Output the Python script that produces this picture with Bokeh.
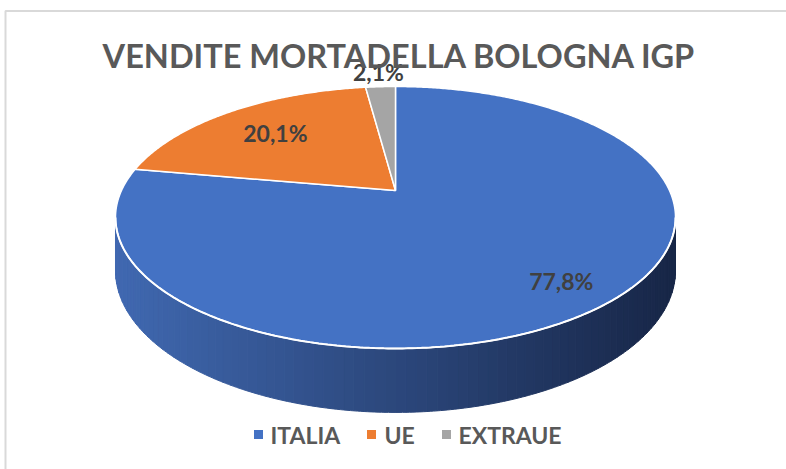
import numpy as np
from bokeh.plotting import figure
from bokeh.models import Range1d
from bokeh.core.properties import value
from bokeh.embed import file_html
from bokeh.resources import INLINE

# ---- data ----
title = "VENDITE MORTADELLA BOLOGNA IGP"
categories = ["ITALIA", "UE", "EXTRAUE"]
shares = [77.8, 20.1, 2.1]
labels = ["77,8%", "20,1%", "2,1%"]
colors = ["#4472C4", "#ED7D31", "#A5A5A5"]

# ---- layout ----
W, H = 786, 469
CX, CY = 395, 190          # projected pie centre
A, B, K = 274, 125.4, 0.206  # perspective parameters
DEPTH = 50.8
label_r = [0.82, 0.70, 1.17]
FONT = "Lato"
TXT = "#595959"


def proj(r, theta_deg):
    t = np.radians(theta_deg)
    x = r * np.sin(t)
    z = r * np.cos(t)
    d = 1 + K * z
    return CX + A * x / d, CY - B * z / d, z


p = figure(width=W, height=H, x_range=Range1d(0, W), y_range=Range1d(H, 0),
           output_backend="svg", toolbar_location=None, min_border=0,
           x_axis_location=None, y_axis_location=None)
p.grid.visible = False
p.outline_line_color = None
p.background_fill_color = "white"

# chart border
p.line([5, 5, 800], [480, 10.5, 10.5], line_color="#D9D9D9", line_width=2)

# side wall (front half) with horizontal gradient
a0, a1 = 90 + np.degrees(np.arcsin(K)), 270 - np.degrees(np.arcsin(K))
N = 90
edges = np.linspace(a0, a1, N + 1)
c_left = np.array([64, 104, 176])
c_right = np.array([24, 39, 72])
xs, ys, cs = [], [], []
for i in range(N):
    th = np.linspace(edges[i], edges[i + 1], 4)
    tx, ty, tz = proj(1, th)
    by = ty + DEPTH / (1 + K * tz)
    xs.append(list(tx) + list(tx[::-1]))
    ys.append(list(ty) + list(by[::-1]))
    f = (np.mean(tx) - (CX - A)) / (2 * A)
    f = min(max(f, 0), 1)
    c = (c_left * (1 - f) + c_right * f).astype(int)
    cs.append("#%02x%02x%02x" % tuple(c))
p.patches(xs, ys, fill_color=cs, line_color=cs, line_width=1)

# top face slices
cum = np.concatenate([[0], np.cumsum(shares)]) / 100 * 360
sx, sy = [], []
for i in range(len(shares)):
    th = np.linspace(cum[i], cum[i + 1], max(3, int((cum[i + 1] - cum[i]) * 2)))
    px, py, _ = proj(1, th)
    sx.append([CX] + list(px))
    sy.append([CY] + list(py))
p.patches(sx, sy, fill_color=colors, line_color="white", line_width=1.5)

# white rim along the front
th = np.linspace(a0, a1, 200)
rx, ry, _ = proj(1, th)
p.line(rx, ry, line_color="white", line_width=2)

# data labels
lx, ly = [], []
for i in range(len(shares)):
    mid = (cum[i] + cum[i + 1]) / 2
    x, y, _ = proj(label_r[i], mid)
    lx.append(x)
    ly.append(y)
p.text(lx, ly, text=labels, text_font=value(FONT), text_font_style="bold",
       text_font_size="23px", text_color="#404040", text_align="center",
       text_baseline="middle")

# title
p.text([W / 2 + 6], [55], text=[title], text_font=value(FONT), text_font_style="bold",
       text_font_size="32.5px", text_color=TXT, text_align="center", text_baseline="middle")

# legend
leg_sq_x = [258, 371, 446]
leg_tx_x = [270, 384, 458]
LY = 434
p.scatter(leg_sq_x, [LY] * 3, marker="square", size=9, fill_color=colors, line_color=None)
p.text(leg_tx_x, [LY] * 3, text=categories, text_font=value(FONT), text_font_style="bold",
       text_font_size="23px", text_color=TXT, text_align="left", text_baseline="middle")

open("out.html", "w").write(file_html(p, INLINE))
